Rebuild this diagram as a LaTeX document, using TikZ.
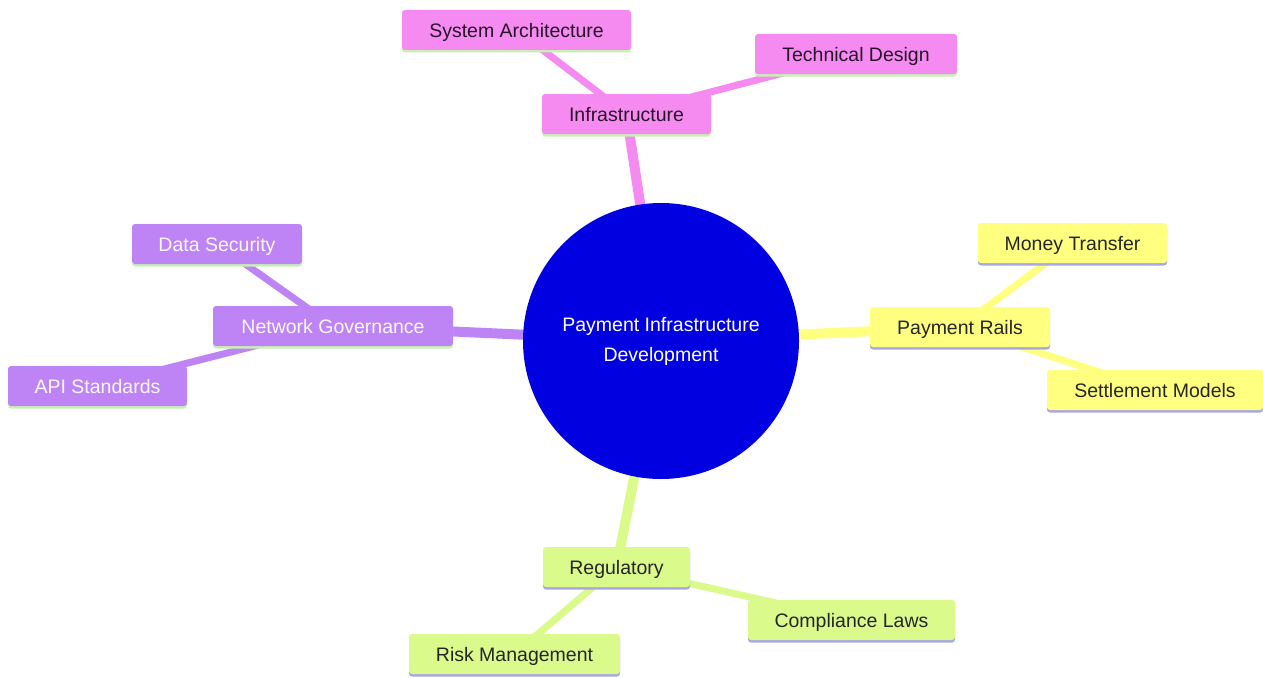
\documentclass[tikz,border=0pt]{standalone}
\usepackage{fontspec}
\setmainfont{Liberation Sans}
\usetikzlibrary{backgrounds,shadows}
\definecolor{pinkfill}{RGB}{245,138,240}
\definecolor{purplefill}{RGB}{190,132,245}
\definecolor{yellowfill}{RGB}{255,255,128}
\definecolor{greenfill}{RGB}{218,250,140}
\definecolor{centerblue}{RGB}{0,0,225}
\definecolor{greenshadow}{RGB}{200,240,180}
\definecolor{lavshadow}{RGB}{168,168,228}
\definecolor{darktext}{RGB}{40,20,40}
\begin{document}
\begin{tikzpicture}[x=1pt,y=-1pt,
  box/.style={rectangle,rounded corners=3pt,minimum height=40pt,inner sep=0pt,
    text depth=0pt,font=\fontsize{19.5}{23}\selectfont},
  pinkbox/.style={box,fill=pinkfill,text=darktext,
    general shadow={shadow yshift=-2.5pt,fill=greenshadow}},
  purplebox/.style={box,fill=purplefill,text=white!94!purplefill,
    general shadow={shadow yshift=-2.5pt,fill=greenshadow}},
  yellowbox/.style={box,fill=yellowfill,text=black!85,
    general shadow={shadow yshift=-2.5pt,fill=lavshadow}},
  greenbox/.style={box,fill=greenfill,text=black!85,
    general shadow={shadow yshift=-2.5pt,fill=lavshadow}},
  mainedge/.style={line width=10pt},
  subedge/.style={line width=7pt}]
\useasboundingbox (0,0) rectangle (1263,677);

\node[circle,fill=centerblue,minimum size=276pt,inner sep=0pt,text=white,align=center,
  font=\fontsize{19.5}{30}\selectfont] (root) at (661,341) {Payment Infrastructure\\Development};

\node[pinkbox,minimum width=169pt] (infra) at (626.5,114) {Infrastructure};
\node[pinkbox,minimum width=229pt] (sysarch) at (516.5,30) {System Architecture};
\node[pinkbox,minimum width=202pt] (techdes) at (856,54) {Technical Design};

\node[purplebox,minimum width=240pt] (netgov) at (333,326) {Network Governance};
\node[purplebox,minimum width=170pt] (datasec) at (217,244) {Data Security};
\node[purplebox,minimum width=179pt] (api) at (97.5,386) {API Standards};

\node[yellowbox,minimum width=180pt] (rails) at (960,327) {Payment Rails};
\node[yellowbox,minimum width=189pt] (money) at (1072.5,243) {Money Transfer};
\node[yellowbox,minimum width=216pt] (settle) at (1155,390) {Settlement Models};

\node[greenbox,minimum width=147pt] (regul) at (616.5,567) {Regulatory};
\node[greenbox,minimum width=207pt] (comp) at (851.5,620) {Compliance Laws};
\node[greenbox,minimum width=211pt] (risk) at (514.5,654) {Risk Management};

\begin{scope}[on background layer]
  \fill[white] (0,0) rectangle (1263,677);
  \draw[pinkfill,mainedge] (root.center) -- (infra.center);
  \draw[pinkfill,subedge] (infra.center) -- (sysarch.center);
  \draw[pinkfill,subedge] (infra.center) -- (techdes.center);
  \draw[purplefill,mainedge] (root.center) -- (netgov.center);
  \draw[purplefill,subedge] (netgov.center) -- (datasec.center);
  \draw[purplefill,subedge] (netgov.center) -- (api.center);
  \draw[yellowfill,mainedge] (root.center) -- (rails.center);
  \draw[yellowfill,subedge] (rails.center) -- (money.center);
  \draw[yellowfill,subedge] (rails.center) -- (settle.center);
  \draw[greenfill,mainedge] (root.center) -- (regul.center);
  \draw[greenfill,subedge] (regul.center) -- (comp.center);
  \draw[greenfill,subedge] (regul.center) -- (risk.center);
\end{scope}
\end{tikzpicture}
\end{document}
